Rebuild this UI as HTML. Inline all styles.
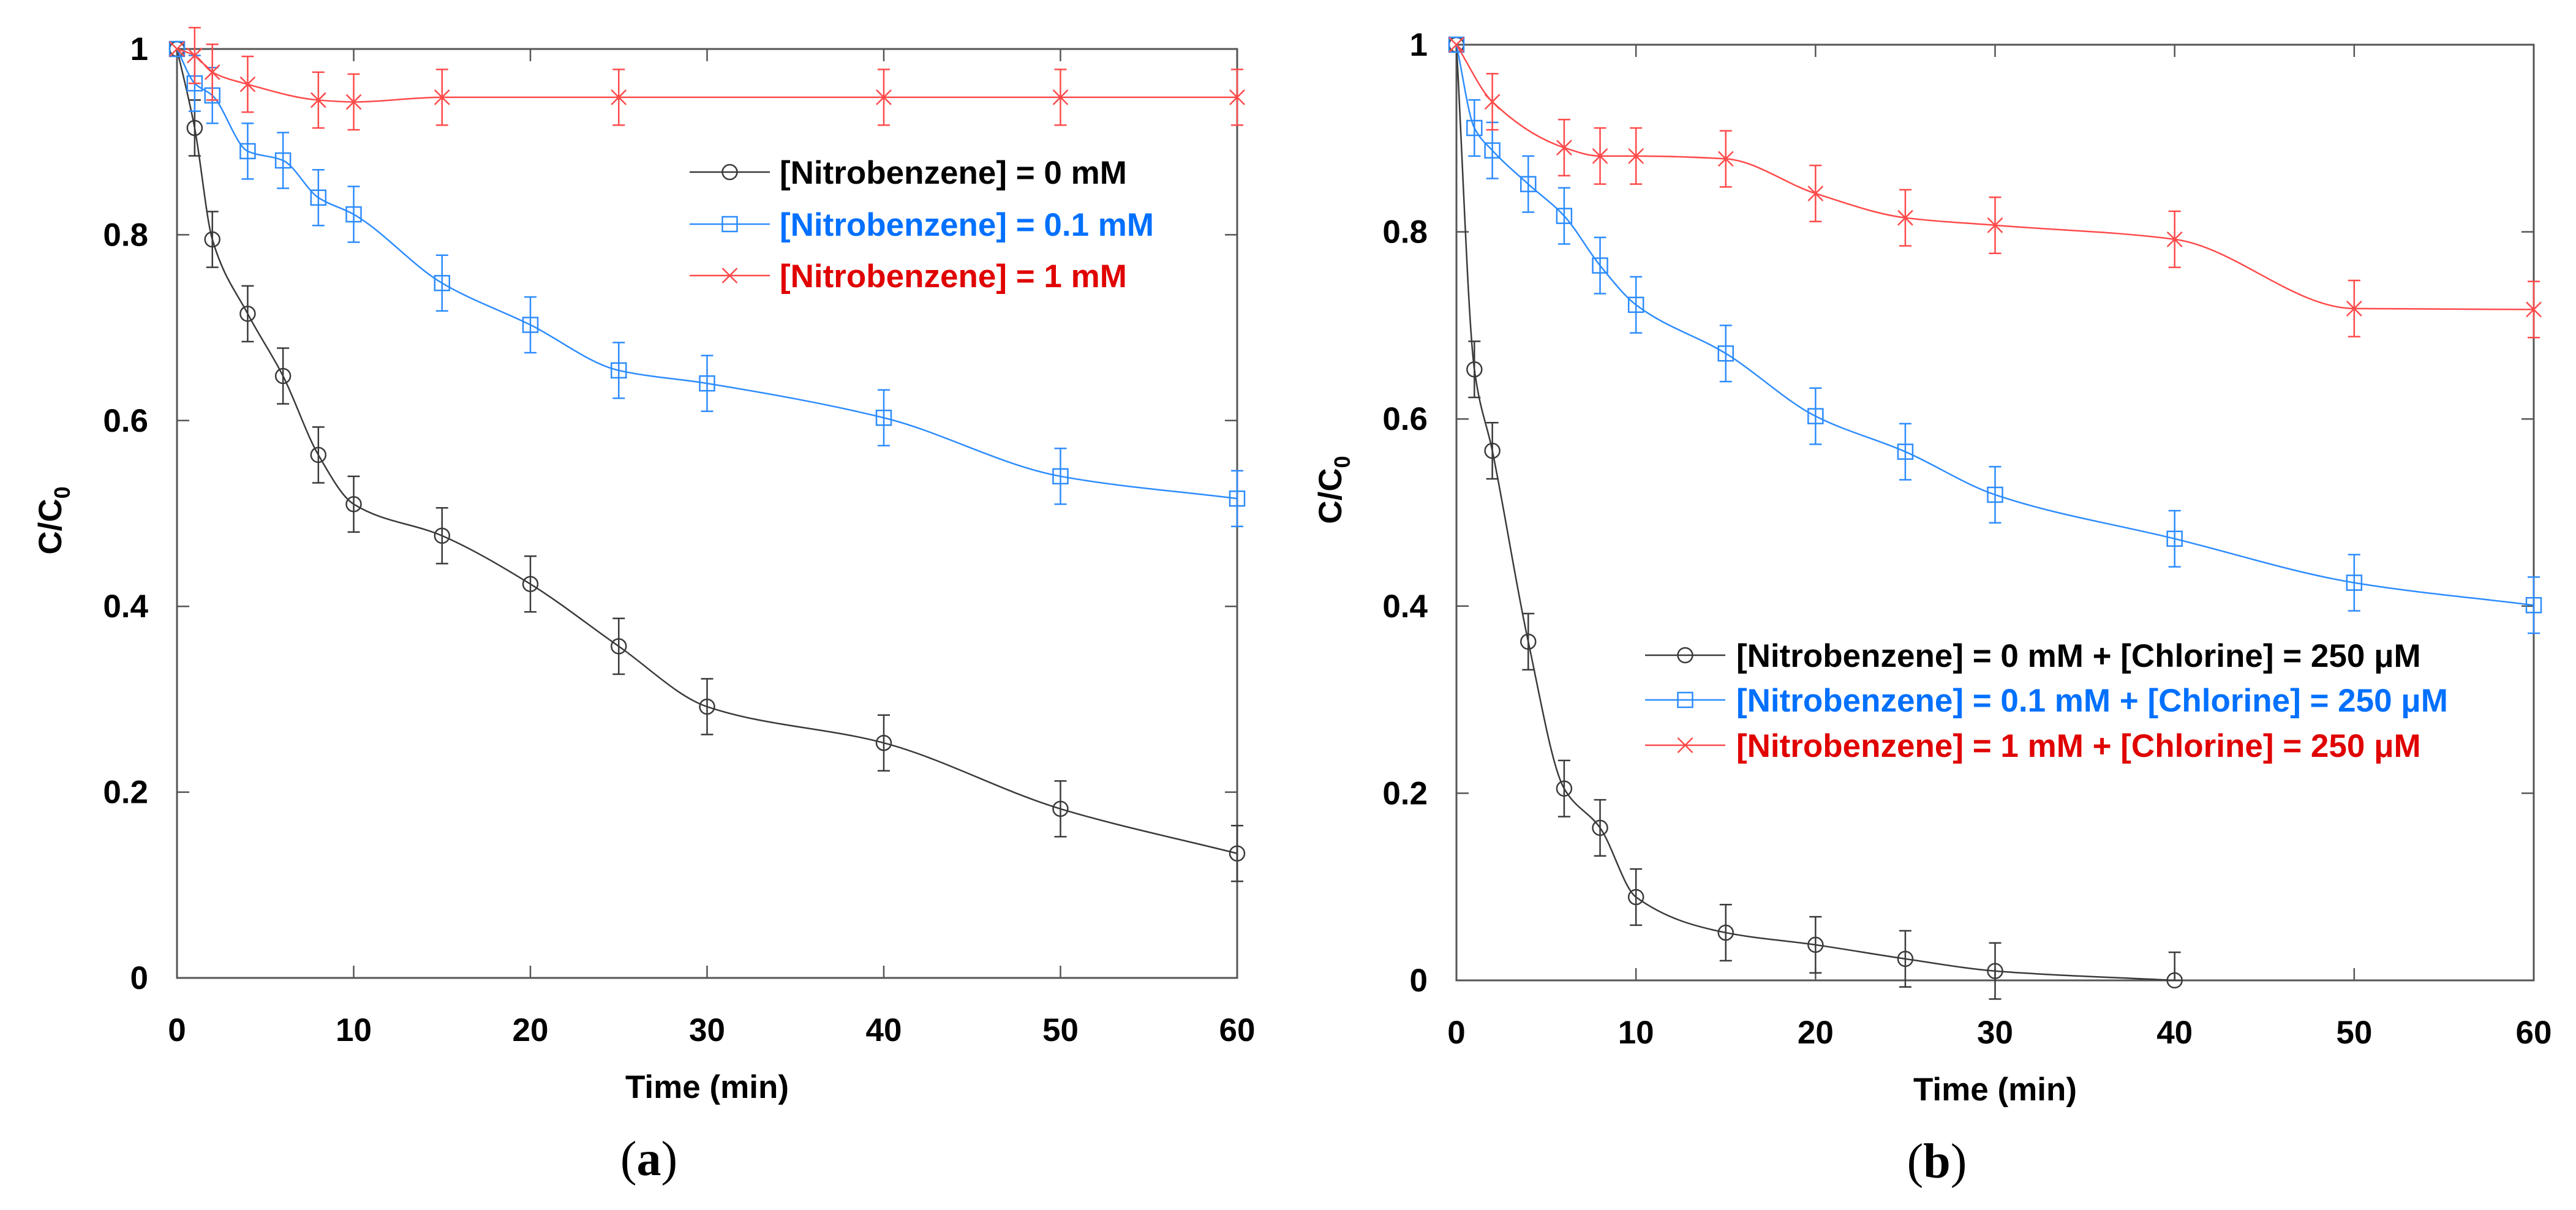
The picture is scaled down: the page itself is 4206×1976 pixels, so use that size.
<!DOCTYPE html>
<html><head><meta charset="utf-8"><style>
html,body{margin:0;padding:0;background:#fff;}
svg{display:block;font-family:"Liberation Sans",Arial,sans-serif;}
</style></head><body>
<svg id="fig" width="4206" height="1976" viewBox="0 0 4206 1976" xmlns="http://www.w3.org/2000/svg"></svg>
<script>
// ---- data ----
const timesA = [0,1,2,4,6,8,10,15,20,25,30,40,50,60];
const blackA = [1,0.915,0.795,0.715,0.648,0.563,0.51,0.476,0.424,0.357,0.292,0.253,0.182,0.134];
const blueA  = [1,0.963,0.95,0.89,0.88,0.84,0.822,0.748,0.703,0.654,0.64,0.603,0.54,0.516];
const timesRedA = [0,1,2,4,8,10,15,25,40,50,60];
const redA   = [1,0.993,0.975,0.962,0.945,0.943,0.948,0.948,0.948,0.948,0.948];
const timesBlackB = [0,1,2,4,6,8,10,15,20,25,30,40];
const blackB = [1,0.653,0.566,0.362,0.205,0.163,0.089,0.051,0.038,0.023,0.010,0.0];
const timesB = [0,1,2,4,6,8,10,15,20,25,30,40,50,60];
const blueB  = [1,0.911,0.887,0.851,0.817,0.764,0.722,0.670,0.603,0.565,0.519,0.472,0.425,0.401];
const timesRedB = [0,2,6,8,10,15,20,25,30,40,50,60];
const redB   = [1,0.939,0.890,0.881,0.881,0.878,0.841,0.815,0.807,0.792,0.718,0.717];
const errBar = 0.03;
const xTicks = [0,10,20,30,40,50,60];
const yTicks = [0,0.2,0.4,0.6,0.8,1];
const yTickLabels = ["0","0.2","0.4","0.6","0.8","1"];
const legendA = ["[Nitrobenzene] = 0 mM","[Nitrobenzene] = 0.1 mM","[Nitrobenzene] = 1 mM"];
const legendB = ["[Nitrobenzene] = 0 mM + [Chlorine] = 250 μM","[Nitrobenzene] = 0.1 mM + [Chlorine] = 250 μM","[Nitrobenzene] = 1 mM + [Chlorine] = 250 μM"];

const NS="http://www.w3.org/2000/svg";
const svg=document.getElementById('fig');
function mk(tag,attrs,parent){const e=document.createElementNS(NS,tag);for(const k in attrs)e.setAttribute(k,attrs[k]);(parent||svg).appendChild(e);return e;}

const LINE={black:'#3a3a3a',blue:'#2d8cff',red:'#ff4a4a'};
const TEXT={black:'#000',blue:'#0070ff',red:'#e00000'};

// monotone cubic (Fritsch-Carlson) in pixel space
function spline(pts){
  const n=pts.length;
  const dx=[],sl=[];
  for(let i=0;i<n-1;i++){dx.push(pts[i+1][0]-pts[i][0]);sl.push((pts[i+1][1]-pts[i][1])/dx[i]);}
  const m=new Array(n);
  m[0]=sl[0];m[n-1]=sl[n-2];
  for(let i=1;i<n-1;i++){
    if(sl[i-1]*sl[i]<=0)m[i]=0;
    else{const w1=2*dx[i]+dx[i-1],w2=dx[i]+2*dx[i-1];m[i]=(w1+w2)/(w1/sl[i-1]+w2/sl[i]);}
  }
  let d='M'+pts[0][0]+','+pts[0][1];
  for(let i=0;i<n-1;i++){
    const h=dx[i];
    d+=' C'+(pts[i][0]+h/3)+','+(pts[i][1]+m[i]*h/3)+' '+(pts[i+1][0]-h/3)+','+(pts[i+1][1]-m[i+1]*h/3)+' '+pts[i+1][0]+','+pts[i+1][1];
  }
  return d;
}
function marker(g,type,x,y,col){
  const s=12;
  if(type==='circle'){return mk('circle',{cx:x,cy:y,r:s,fill:'none',stroke:col,'stroke-width':2.5},g);}
  if(type==='square'){return mk('rect',{x:x-s,y:y-s,width:2*s,height:2*s,fill:'none',stroke:col,'stroke-width':2.5},g);}
  return mk('path',{d:`M${x-s},${y-s}L${x+s},${y+s}M${x-s},${y+s}L${x+s},${y-s}`,stroke:col,'stroke-width':2.5,fill:'none'},g);
}

function panel(id,L,R,T,B,series,legend,leg){
  const g=mk('g',{});
  
  
  const X=t=>L+(R-L)*t/60, Y=v=>B-(B-T)*v;
  const fr=mk('rect',{x:L,y:T,width:R-L,height:B-T,fill:'none',stroke:'#555','stroke-width':3},g);
  
  
  xTicks.forEach(t=>{
    mk('line',{x1:X(t),x2:X(t),y1:B,y2:B-20,stroke:'#555','stroke-width':2.5},g);
    mk('line',{x1:X(t),x2:X(t),y1:T,y2:T+20,stroke:'#555','stroke-width':2.5},g);
    const tl=mk('text',{x:X(t),y:B+103,'font-size':53,'font-weight':'bold','text-anchor':'middle',fill:'#000'},g);
    tl.textContent=t;
    
    
  });
  yTicks.forEach((v,i)=>{
    mk('line',{x1:L,x2:L+20,y1:Y(v),y2:Y(v),stroke:'#555','stroke-width':2.5},g);
    mk('line',{x1:R,x2:R-20,y1:Y(v),y2:Y(v),stroke:'#555','stroke-width':2.5},g);
    const tl=mk('text',{x:L-47,y:Y(v)+18,'font-size':53,'font-weight':'bold','text-anchor':'end',fill:'#000'},g);
    tl.textContent=yTickLabels[i];
    
    
  });
  const xt=mk('text',{x:(L+R)/2,y:B+196,'font-size':53,'font-weight':'bold','text-anchor':'middle',fill:'#000'},g);
  xt.textContent='Time (min)';
  
  
  const yt=mk('text',{x:0,y:0,'font-size':53,'font-weight':'bold','text-anchor':'middle',fill:'#000',transform:`translate(${leg.ytx},${leg.yty}) rotate(-90)`},g);
  yt.innerHTML='C/C<tspan font-size="36" dy="14">0</tspan>';
  
  
  const cap=mk('text',{x:(L+R)/2-95,y:B+322,'font-size':80,'text-anchor':'middle',fill:'#000','font-family':'Liberation Serif, serif'},g);
  cap.innerHTML='(<tspan font-weight="bold">'+id+'</tspan>)';
  
  
  series.forEach((s,si)=>{
    const sg=mk('g',{},g);
    
    
    const pts=s.t.map((t,i)=>[X(t),Y(s.v[i])]);
    const ln=mk('path',{d:spline(pts),fill:'none',stroke:LINE[s.color],'stroke-width':2.5},sg);
    
    
    s.t.forEach((t,i)=>{
      if(t===0)return;
      const x=X(t),y1=Y(s.v[i]+errBar),y2=Y(s.v[i]>0?s.v[i]-errBar:s.v[i]);
      const eb=mk('path',{d:`M${x},${y1}V${y2}M${x-10},${y1}H${x+10}M${x-10},${y2}H${x+10}`,stroke:LINE[s.color],'stroke-width':2.5,fill:'none'},sg);
      
      
    });
    s.t.forEach((t,i)=>{
      const m=marker(sg,s.m,X(t),Y(s.v[i]),LINE[s.color]);
      
      
    });
    const ly=leg.rows[si];
    const lg=mk('g',{},g);
    
    
    mk('line',{x1:leg.x1,x2:leg.x2,y1:ly,y2:ly,stroke:LINE[s.color],'stroke-width':2.5},lg);
    marker(lg,s.m,(leg.x1+leg.x2)/2,ly,LINE[s.color]);
    const lt=mk('text',{x:leg.tx,y:ly+19,'font-size':53,'font-weight':'bold',fill:TEXT[s.color]},lg);
    lt.textContent=legend[si];
  });
}

panel('a',289,2020,80,1597,[
  {t:timesA,v:blackA,color:'black',m:'circle'},
  {t:timesA,v:blueA,color:'blue',m:'square'},
  {t:timesRedA,v:redA,color:'red',m:'x'}
],legendA,{x1:1126,x2:1257,tx:1273,rows:[281,366,450],ytx:100,yty:850});

panel('b',2378,4137,73,1601,[
  {t:timesBlackB,v:blackB,color:'black',m:'circle'},
  {t:timesB,v:blueB,color:'blue',m:'square'},
  {t:timesRedB,v:redB,color:'red',m:'x'}
],legendB,{x1:2686,x2:2817,tx:2835,rows:[1070,1143,1217],ytx:2190,yty:800});
</script>
</body></html>
